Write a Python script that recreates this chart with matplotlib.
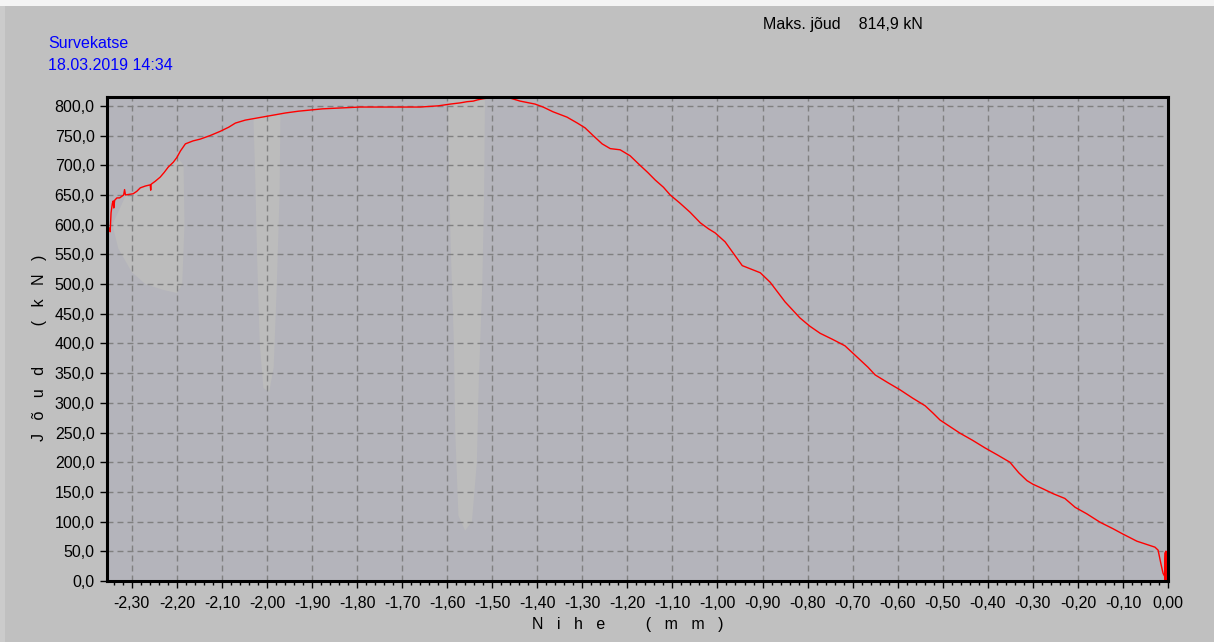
'''
Force-displacement curve of a compression test (Survekatse).
'''

import matplotlib
matplotlib.use("Agg")
import matplotlib.pyplot as plt
from matplotlib.patches import Rectangle
from matplotlib.ticker import FuncFormatter, MultipleLocator
import numpy as np

# Displacement (mm) and force (kN).
nihe = [-2.349, -2.348, -2.347, -2.346, -2.344, -2.343, -2.341, -2.340, -2.338,
        -2.333, -2.327, -2.318, -2.316, -2.314, -2.306, -2.297, -2.289,
        -2.281, -2.270, -2.259, -2.258, -2.257, -2.248, -2.237, -2.228,
        -2.219, -2.208, -2.200, -2.192, -2.181, -2.164, -2.148, -2.126,
        -2.104, -2.085, -2.070, -2.048, -2.026, -2.004, -1.982, -1.959,
        -1.930, -1.904, -1.876, -1.848, -1.820, -1.793, -1.750, -1.704,
        -1.660, -1.620, -1.593, -1.571, -1.556, -1.542, -1.533, -1.520,
        -1.493, -1.460, -1.438, -1.405, -1.387, -1.365, -1.334, -1.311,
        -1.294, -1.276, -1.256, -1.238, -1.216, -1.194, -1.172, -1.155,
        -1.138, -1.120, -1.105, -1.083, -1.061, -1.038, -1.020, -1.005,
        -0.983, -0.961, -0.945, -0.925, -0.905, -0.883, -0.866, -0.850,
        -0.833, -0.817, -0.795, -0.772, -0.745, -0.717, -0.700, -0.683,
        -0.666, -0.650, -0.622, -0.595, -0.567, -0.539, -0.522, -0.506,
        -0.484, -0.462, -0.434, -0.406, -0.378, -0.351, -0.331, -0.313,
        -0.300, -0.277, -0.255, -0.229, -0.206, -0.180, -0.151, -0.122,
        -0.100, -0.069, -0.045, -0.029, -0.022, -0.016, -0.011, -0.006,
        -0.003, -0.004, -0.005, -0.006, -0.007, -0.005, -0.004]
joud = [594, 588, 605, 620, 630, 636, 640, 628, 641,
        645, 645, 650, 659, 650, 651, 652, 656,
        662, 665, 667, 658, 668, 673, 680, 688,
        697, 705, 713, 724, 736, 741, 744, 750,
        757, 764, 771, 776, 779, 782, 785, 788,
        791, 793, 795, 796, 797, 798, 798, 798,
        798, 800, 803, 805, 807, 808, 810, 812,
        814.9, 813, 808, 803, 798, 790, 781, 771,
        763, 750, 736, 728, 726, 716, 700, 688,
        675, 663, 650, 636, 621, 603, 593, 586,
        571, 548, 531, 525, 519, 503, 486, 470,
        456, 443, 429, 417, 407, 396, 384, 372,
        360, 347, 334, 322, 308, 295, 283, 271,
        260, 249, 237, 224, 212, 200, 182, 169,
        163, 155, 147, 139, 124, 113, 99, 88,
        79, 67, 61, 57, 52, 30, 13, 6,
        0, 50, 0, 48, 0, 50, 0]

# Light shading patches on the plot background (x in mm, y in kN).
laik1_x = [-2.343, -2.314, -2.259, -2.200, -2.185, -2.183, -2.188, -2.200, -2.230, -2.270, -2.300, -2.330]
laik1_y = [600, 648, 667, 715, 700, 600, 500, 485, 490, 500, 520, 560]
laik2_x = [-2.030, -1.970, -1.972, -1.978, -1.985, -1.995, -2.008, -2.016, -2.022, -2.026]
laik2_y = [780, 785, 650, 500, 360, 318, 325, 400, 550, 680]
laik3_x = [-1.598, -1.516, -1.518, -1.522, -1.530, -1.534, -1.545, -1.560, -1.575, -1.582, -1.585, -1.592, -1.596]
laik3_y = [812, 814, 650, 500, 330, 200, 100, 85, 110, 250, 400, 560, 700]

x_ticks = np.round(np.arange(-2.3, 0.001, 0.1), 2)
y_ticks = np.arange(0, 801, 50)
maks_joud = max(joud)

W, H = 1214, 642
FONT = ["Liberation Sans", "DejaVu Sans"]
plt.rcParams["font.family"] = FONT


def fmt_x(v, pos):
    s = f"{abs(v):.2f}".replace(".", ",")
    return s if round(v, 3) == 0 else "-" + s


def fmt_y(v, pos):
    return f"{v:.1f}".replace(".", ",")


fig = plt.figure(figsize=(W / 100, H / 100), dpi=100, facecolor="#c0c0c0")
fig.patches.append(Rectangle((0, 1 - 6 / H), 1, 6 / H, transform=fig.transFigure,
                             facecolor="#f4f4f4", edgecolor="none"))
fig.patches.append(Rectangle((0, 0), 5 / W, 1 - 6 / H, transform=fig.transFigure,
                             facecolor="#cbcbcb", edgecolor="none"))

ax = fig.add_axes([107 / W, 1 - 581 / H, (1168 - 107) / W, (581 - 97) / H])
ax.set_facecolor("#b4b4bb")

for lx, ly in [(laik1_x, laik1_y), (laik2_x, laik2_y), (laik3_x, laik3_y)]:
    ax.fill(lx, ly, color="#bcbcbc", lw=0, zorder=1)

ax.plot(nihe, joud, color="#ff0000", lw=1.0, zorder=3)

ax.set_xlim(-2.355, 0.0)
ax.set_ylim(0, maks_joud)
ax.set_xticks(x_ticks)
ax.set_yticks(y_ticks)
ax.xaxis.set_minor_locator(MultipleLocator(0.02))
ax.xaxis.set_major_formatter(FuncFormatter(fmt_x))
ax.yaxis.set_major_formatter(FuncFormatter(fmt_y))
ax.grid(True, color="#808080", lw=1.0, linestyle=(0, (4.3, 2.9)), zorder=2)
ax.set_axisbelow(False)
ax.tick_params(axis="both", which="major", labelsize=11.5, colors="black",
               length=5, width=1, direction="out")
ax.tick_params(axis="x", which="major", pad=6)
ax.tick_params(axis="y", which="major", pad=4)
ax.tick_params(axis="x", which="minor", length=3, width=1)
for sp in ax.spines.values():
    sp.set_linewidth(2.2)
    sp.set_color("black")
    sp.set_zorder(4)

fig.text(628 / W, 1 - 625 / H, "N   i   h   e         (   m   m   )",
         ha="center", va="center", fontsize=11.5)
fig.text(40 / W, 1 - 348 / H, "J   õ   u   d         (   k   N   )",
         ha="center", va="center", rotation=90, fontsize=11.5)

fig.text(48 / W, 1 - 44 / H, "Survekatse", color="#0000ff",
         ha="left", va="center", fontsize=11.5)
fig.text(48 / W, 1 - 65 / H, "18.03.2019 14:34", color="#0000ff",
         ha="left", va="center", fontsize=11.5)
fig.text(763 / W, 1 - 25 / H,
         "Maks. jõud    " + f"{maks_joud:.1f}".replace(".", ",") + " kN",
         ha="left", va="center", fontsize=11.5)

fig.savefig("out.png", dpi=100, facecolor=fig.get_facecolor())
